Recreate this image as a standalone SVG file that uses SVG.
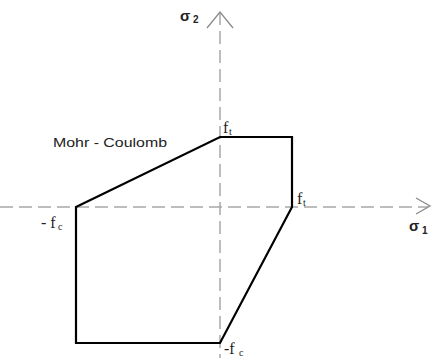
<svg xmlns="http://www.w3.org/2000/svg" width="432" height="358" viewBox="0 0 432 358">
<style>
.axis{stroke:#a8a8a8;stroke-width:1.5;fill:none;stroke-dasharray:13 6}
.arrow{stroke:#8a8a8a;stroke-width:1.3;fill:none}
.env{stroke:#000;stroke-width:2.2;fill:none;stroke-linejoin:miter}
.lbl{font-family:"Liberation Serif",serif;font-size:16px;fill:#222}
.sub{font-family:"Liberation Serif",serif;font-size:10px;fill:#222}
.sig{font-family:"Liberation Sans",sans-serif;font-weight:bold;font-size:15px;fill:#222}
.sigsub{font-family:"Liberation Sans",sans-serif;font-weight:bold;font-size:10px;fill:#222}
.mc{font-family:"Liberation Sans",sans-serif;font-size:13px;fill:#222}
</style>
<rect width="432" height="358" fill="#fff"/>
<g id="connectors">
<line class="axis" x1="0" y1="207" x2="428" y2="207"/>
<line class="axis" x1="220" y1="12" x2="220" y2="358"/>
<path class="arrow" d="M207 28 L220 12 L233 28"/>
<path class="arrow" d="M416 198 L430 206 L416 214"/>
</g>
<g id="envelope">
<polygon class="env" points="76,207 220,137 292,137 292,207 220,343 76,343"/>
</g>
<g id="label-sigma2"><text class="sig" x="180" y="21">σ</text><text class="sigsub" x="193" y="23">2</text></g>
<g id="label-sigma1"><text class="sig" x="409" y="231">σ</text><text class="sigsub" x="422" y="234">1</text></g>
<g id="label-mohr"><text class="mc" x="53" y="147" textLength="114" lengthAdjust="spacingAndGlyphs">Mohr - Coulomb</text></g>
<g id="label-ft-top"><text class="lbl" x="223" y="133">f</text><text class="sub" x="229" y="135">t</text></g>
<g id="label-ft-right"><text class="lbl" x="297" y="204">f</text><text class="sub" x="303" y="206">t</text></g>
<g id="label-fc-left"><text class="lbl" x="41" y="228">- f</text><text class="sub" x="58" y="230">c</text></g>
<g id="label-fc-bottom"><text class="lbl" x="224" y="354">-f</text><text class="sub" x="239" y="356">c</text></g>
</svg>
